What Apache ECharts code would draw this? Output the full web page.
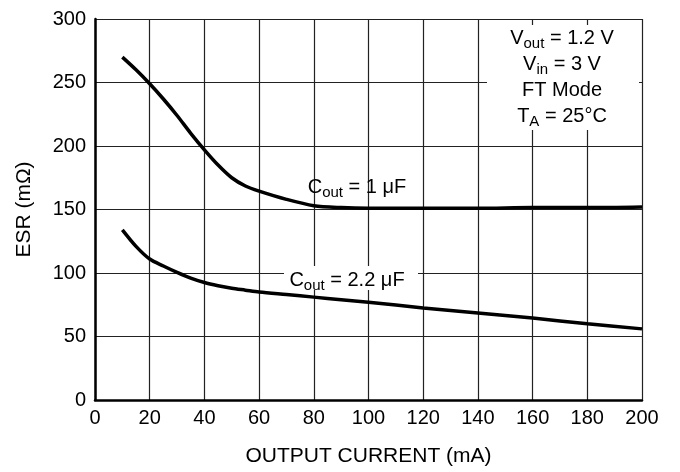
<!DOCTYPE html>
<html>
<head>
<meta charset="utf-8">
<script src="https://cdn.jsdelivr.net/npm/echarts@6/dist/echarts.min.js"></script>
<style>
  html, body { margin: 0; padding: 0; background: #fff; }
  #chart { width: 680px; height: 472px; }
</style>
</head>
<body>
<div id="chart"></div>
<script>
// output current (mA)
const current = [10, 15, 20, 25, 30, 35, 40, 45, 50, 55, 60, 70, 80, 90, 100, 120, 140, 160, 180, 200];
// ESR (mOhm) for Cout = 1 uF
const esr1uF = [270, 260, 249, 237, 224, 210, 197, 185, 175, 168.5, 164.5, 158, 153, 151.5, 151, 151, 151, 151.5, 151.5, 152];
// ESR (mOhm) for Cout = 2.2 uF
const esr22uF = [134, 121, 111, 105.5, 100.5, 96, 92.5, 90, 88, 86.5, 85, 83, 81, 79, 77, 72.5, 68.5, 64.5, 60, 56];

const xTicks = [0, 20, 40, 60, 80, 100, 120, 140, 160, 180, 200];
const yTicks = [0, 50, 100, 150, 200, 250, 300];

const font = "'Liberation Sans', Arial, sans-serif";
const richBase = {
  n: { fontSize: 20, fontFamily: font, color: '#000', lineHeight: 26 },
  s: { fontSize: 15, fontFamily: font, color: '#000', padding: [11, 0, 0, 0], lineHeight: 26 }
};

const chart = echarts.init(document.getElementById('chart'));

function pair(a, b) {
  return a.map((v, i) => [v, b[i]]);
}

const option = {
  animation: false,
  backgroundColor: '#fff',
  grid: { left: 95, right: 38, top: 19, bottom: 69 },
  xAxis: {
    type: 'value',
    min: xTicks[0],
    max: xTicks[xTicks.length - 1],
    interval: 20,
    name: 'OUTPUT CURRENT (mA)',
    nameLocation: 'middle',
    nameGap: 46,
    nameTextStyle: { fontSize: 21, fontFamily: font, color: '#000' },
    axisLine: { show: true, onZero: false, lineStyle: { color: '#000', width: 2.5 } },
    axisTick: { show: false },
    axisLabel: { fontSize: 20, fontFamily: font, color: '#000', margin: 8 },
    splitLine: { show: true, lineStyle: { color: '#222', width: 1.2 } }
  },
  yAxis: {
    type: 'value',
    min: yTicks[0],
    max: yTicks[yTicks.length - 1],
    interval: 50,
    name: 'ESR (m\u03A9)',
    nameLocation: 'middle',
    nameGap: 60,
    nameTextStyle: { fontSize: 21, fontFamily: font, color: '#000' },
    axisLine: { show: true, onZero: false, lineStyle: { color: '#000', width: 2.5 } },
    axisTick: { show: false },
    axisLabel: { fontSize: 20, fontFamily: font, color: '#000', margin: 9 },
    splitLine: { show: true, lineStyle: { color: '#222', width: 1.2 } }
  },
  series: [
    {
      name: 'Cout = 1 uF',
      type: 'line',
      data: pair(current, esr1uF),
      smooth: 0.3,
      symbol: 'none',
      lineStyle: { color: '#000', width: 3.5 }
    },
    {
      name: 'Cout = 2.2 uF',
      type: 'line',
      data: pair(current, esr22uF),
      smooth: 0.3,
      symbol: 'none',
      lineStyle: { color: '#000', width: 3.5 }
    }
  ],
  graphic: [
    {
      type: 'rect',
      shape: { x: 487, y: 25, width: 152, height: 105 },
      style: { fill: '#fff' },
      z: 50
    },
    {
      type: 'text',
      x: 562, y: 25,
      z: 51,
      style: {
        text: '{n|V}{s|out}{n| = 1.2 V}\n{n|V}{s|in}{n| = 3 V}\n{n|FT Mode}\n{n|T}{s|A}{n| = 25°C}',
        align: 'center',
        verticalAlign: 'top',
        rich: richBase
      }
    },
    {
      type: 'text',
      x: 357, y: 174,
      z: 51,
      style: {
        text: '{n|C}{s|out}{n| = 1 \u03BCF}',
        align: 'center',
        verticalAlign: 'top',
        rich: richBase
      }
    },
    {
      type: 'rect',
      shape: { x: 284, y: 266, width: 134, height: 24 },
      style: { fill: '#fff' },
      z: 50
    },
    {
      type: 'text',
      x: 347, y: 267,
      z: 51,
      style: {
        text: '{n|C}{s|out}{n| = 2.2 \u03BCF}',
        align: 'center',
        verticalAlign: 'top',
        rich: richBase
      }
    }
  ]
};

chart.setOption(option);
</script>
</body>
</html>
